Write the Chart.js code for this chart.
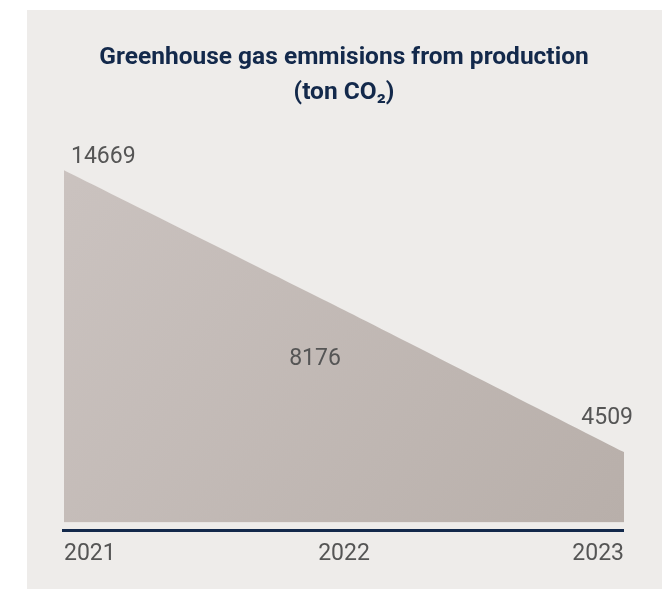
<!DOCTYPE html>
<html>
<head>
  <meta charset="utf-8">
  <title>Greenhouse gas emmisions from production</title>
  <style>
    body {
      margin: 0;
      background: #ffffff;
      font-family: 'Roboto';
    }
    #panel {
      position: absolute;
      left: 27px;
      top: 10px;
      width: 635px;
      height: 579px;
      background: #eeecea;
    }
  </style>
</head>
<body>
  <div id="panel">
    <canvas id="myChart" width="635" height="579"></canvas>
  </div>

  <script src="https://cdn.jsdelivr.net/npm/chart.js@4.4.0/dist/chart.umd.min.js"></script>
  <script>
    // dados do gráfico
    var years = ['2021', '2022', '2023'];
    var emissions = [14669, 8176, 4509];
    var titleLines = ['Greenhouse gas emmisions from production', '(ton CO\u2082)'];

    // onde cada rótulo fica em relação ao ponto (só estilo)
    var labelStyle = [
      { dx: 7, dy: -13, align: 'left' },
      { dx: -29, dy: 49, align: 'center' },
      { dx: 9, dy: -34, align: 'right' }
    ];

    var navy = '#13294b';

    // rótulos de valor desenhados na mão (sem plugin externo)
    var valueLabels = {
      id: 'valueLabels',
      afterDatasetsDraw: function (chart) {
        var ctx = chart.ctx;
        var pts = chart.getDatasetMeta(0).data;
        ctx.save();
        ctx.font = '23px Roboto';
        ctx.fillStyle = '#555555';
        ctx.textBaseline = 'middle';
        pts.forEach(function (p, i) {
          var s = labelStyle[i];
          ctx.textAlign = s.align;
          ctx.fillText(String(emissions[i]), p.x + s.dx, p.y + s.dy);
        });
        ctx.restore();
      }
    };

    // linha azul escura logo abaixo da área
    var baseLine = {
      id: 'baseLine',
      afterDatasetsDraw: function (chart) {
        var a = chart.chartArea;
        var ctx = chart.ctx;
        ctx.save();
        ctx.strokeStyle = navy;
        ctx.lineWidth = 3;
        ctx.beginPath();
        ctx.moveTo(a.left - 2, a.bottom + 8);
        ctx.lineTo(a.right, a.bottom + 8);
        ctx.stroke();
        ctx.restore();
      }
    };

    var ctx = document.getElementById('myChart').getContext('2d');
    var myChart = new Chart(ctx, {
      type: 'line',
      data: {
        labels: years,
        datasets: [{
          data: emissions,
          fill: 'start',
          tension: 0.15,
          borderWidth: 0,
          pointRadius: 0,
          backgroundColor: function (c) {
            var a = c.chart.chartArea;
            if (!a) return '#c2b9b5';
            var g = c.chart.ctx.createLinearGradient(a.left, a.top, a.right, a.bottom);
            g.addColorStop(0, '#cbc3c0');
            g.addColorStop(1, '#b8afaa');
            return g;
          }
        }]
      },
      options: {
        responsive: false,
        animation: false,
        layout: {
          padding: { left: 37, right: 38, top: 0, bottom: 3 }
        },
        plugins: {
          legend: { display: false },
          tooltip: { enabled: false },
          title: {
            display: true,
            text: titleLines,
            color: navy,
            font: { family: 'Roboto', size: 24.5, weight: 'bold', lineHeight: 1.4286 },
            padding: { top: 30.5, bottom: 24.5 }
          }
        },
        scales: {
          x: {
            offset: false,
            grid: { display: false, drawTicks: false },
            border: { display: false },
            ticks: {
              align: 'inner',
              padding: 18,
              color: '#555555',
              font: { family: 'Roboto', size: 23 }
            }
          },
          y: {
            type: 'logarithmic',
            display: false,
            bounds: 'data',
            min: 3360,
            max: 17000
          }
        }
      },
      plugins: [valueLabels, baseLine]
    });
  </script>
</body>
</html>
